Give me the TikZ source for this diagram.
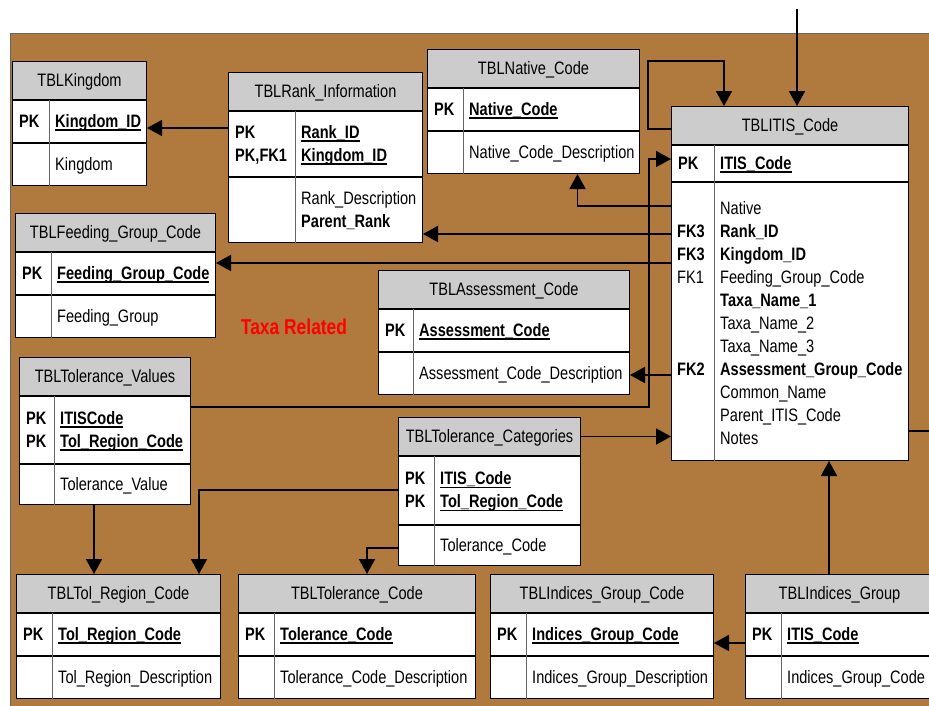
\documentclass[tikz,border=0pt]{standalone}
\usepackage{fontspec}
\setmainfont[FakeStretch=0.81]{Liberation Sans}
\usetikzlibrary{arrows.meta,calc}

\definecolor{bgbrown}{RGB}{176,121,61}
\definecolor{hdrgray}{RGB}{204,204,204}

\newcommand{\cellstrut}{\rule[-6pt]{0pt}{23pt}}
\newcommand{\pk}[1]{{\setbox0=\hbox{\bfseries #1}\rlap{\vrule width\wd0 height -2.2pt depth 3.6pt}\box0}}

% table: name, top left, width/key column/row 1/row 2, title, keys 1, fields 1, keys 2, fields 2
\newcommand{\ertable}[8]{%
  \begin{scope}[shift={(#2)}]
    \foreach \w/\kw/\ha/\hb in {#3}
    {%
      \node[tblhead, minimum width=\w pt] (#1-h) at (0,0) {\cellstrut #4};
      \node[tblrow, minimum width=\w pt, minimum height=\ha pt] (#1-a) at (#1-h.south west) {};
      \node[tblrow, minimum width=\w pt, minimum height=\hb pt] (#1-b) at (#1-a.south west) {};
      \draw[colsep] ($(#1-a.north west)+(\kw,0)$) -- ($(#1-b.south west)+(\kw,0)$);
      \node[celltxt] at ($(#1-a.west)+(7,0)$) {\cellstrut #5\cellstrut};
      \node[celltxt] at ($(#1-a.west)+(\kw+6,0)$) {\cellstrut #6\cellstrut};
      \node[celltxt] at ($(#1-b.west)+(7,0)$) {\cellstrut #7\cellstrut};
      \node[celltxt] at ($(#1-b.west)+(\kw+6,0)$) {\cellstrut #8\cellstrut};
    }%
  \end{scope}%
}

\begin{document}
\begin{tikzpicture}[x=1pt, y=-1pt, font=\fontsize{18}{23}\selectfont,
    tblhead/.style={draw, line width=1pt, fill=hdrgray, minimum height=38pt, inner sep=0pt,
      anchor=north west},
    tblrow/.style={draw, line width=1pt, fill=white, inner sep=0pt, anchor=north west},
    colsep/.style={line width=0.8pt, black!60},
    celltxt/.style={inner sep=0pt, anchor=west, align=left},
    fk/.style={line width=1.8pt, -{Triangle[length=15pt,width=16pt]}},
    link/.style={line width=1.8pt}]
  \useasboundingbox (0,0) rectangle (929,705);
  \fill[bgbrown, draw=black!60, line width=1pt] (10,33) rectangle (945,720);

  \ertable{king}{12,61}{134/37/42/42}{TBLKingdom}{\textbf{PK}}{\pk{Kingdom\_ID}}{}{Kingdom}
  \ertable{rank}{228,72}{194/67/65/65}{TBLRank\_Information}%
    {\textbf{PK}\\\textbf{PK,FK1}}{\pk{Rank\_ID}\\\pk{Kingdom\_ID}}%
    {}{Rank\_Description\\\textbf{Parent\_Rank}}
  \ertable{native}{427,49}{212/36/42/42}{TBLNative\_Code}{\textbf{PK}}{\pk{Native\_Code}}{}{Native\_Code\_Description}
  \ertable{itis}{671,106}{237/43/36/278}{TBLITIS\_Code}{\textbf{PK}}{\pk{ITIS\_Code}}{}{}
  \ertable{feed}{15,213}{200/36/42/42}{TBLFeeding\_Group\_Code}{\textbf{PK}}{\pk{Feeding\_Group\_Code}}{}{Feeding\_Group}
  \ertable{assess}{378,270}{251/35/42/42}{TBLAssessment\_Code}{\textbf{PK}}{\pk{Assessment\_Code}}{}{Assessment\_Code\_Description}
  \ertable{tolval}{19,357}{171/35/67/40}{TBLTolerance\_Values}%
    {\textbf{PK}\\\textbf{PK}}{\pk{ITISCode}\\\pk{Tol\_Region\_Code}}{}{Tolerance\_Value}
  \ertable{tolcat}{398,417}{182/36/68/40}{TBLTolerance\_Categories}%
    {\textbf{PK}\\\textbf{PK}}{\pk{ITIS\_Code}\\\pk{Tol\_Region\_Code}}{}{Tolerance\_Code}
  \ertable{tolreg}{16,574}{204/36/42/42}{TBLTol\_Region\_Code}{\textbf{PK}}{\pk{Tol\_Region\_Code}}{}{Tol\_Region\_Description}
  \ertable{tolcode}{238,574}{237/36/42/42}{TBLTolerance\_Code}{\textbf{PK}}{\pk{Tolerance\_Code}}{}{Tolerance\_Code\_Description}
  \ertable{indcode}{490,574}{223/36/42/42}{TBLIndices\_Group\_Code}{\textbf{PK}}{\pk{Indices\_Group\_Code}}{}{Indices\_Group\_Description}
  \ertable{indgrp}{745,574}{188/36/42/42}{TBLIndices\_Group}{\textbf{PK}}{\pk{ITIS\_Code}}{}{Indices\_Group\_Code}

  % ITIS field list
  \node[celltxt, anchor=north west] (itis-keys) at ($(itis-b.north west)+(6,15.5)$)
    {\cellstrut\mbox{}\\\textbf{FK3}\\\textbf{FK3}\\FK1\\\mbox{}\\\mbox{}\\\mbox{}\\\textbf{FK2}};
  \node[celltxt, anchor=north west] (itis-fields) at ($(itis-b.north west)+(49,15.5)$)
    {\cellstrut Native\\\textbf{Rank\_ID}\\\textbf{Kingdom\_ID}\\Feeding\_Group\_Code\\\textbf{Taxa\_Name\_1}\\
     Taxa\_Name\_2\\Taxa\_Name\_3\\\textbf{Assessment\_Group\_Code}\\Common\_Name\\Parent\_ITIS\_Code\\Notes};

  \node[text=red, font=\fontsize{21.5}{26}\selectfont\bfseries] (taxa) at (294,327) {Taxa Related};

  % links
  \draw[fk] ($(rank-a.north west)+(0,17)$) coordinate (p) -- (king-a.east |- p);
  \draw[fk] ($(itis-b.north west)+(0,52)$) coordinate (p) -- (rank-b.east |- p);
  \draw[fk] ($(itis-b.north west)+(0,81)$) coordinate (p) -- (feed-a.east |- p);
  \draw[fk] ($(itis-b.north west)+(0,24)$) -| ($(native-b.south)+(44,0)$);
  \draw[fk] ($(itis-b.north west)+(0,193)$) coordinate (p) -- (assess-b.east |- p);
  \draw[fk] ($(itis-h.north west)+(0,23)$) -- ++(-23,0) |- ($(itis-h.north west)+(53,-45)$)
    -- ($(itis-h.north west)+(53,0)$);
  \coordinate (itis-in) at ($(itis-h.north west)+(126,-97)$);
  \draw[fk] (itis-in) -- (itis-in |- itis-h.north);
  \draw[fk] ($(tolval-a.north east)+(0,11)$) -| ($(itis-a.north west)+(-22,14)$)
    -- ($(itis-a.north west)+(0,14)$);
  \draw[fk] (tolcat-h.east) -- (itis-b.west |- tolcat-h.east);
  \coordinate (itis-out) at ($(itis-b.north east)+(40,249)$);
  \draw[link] (itis-b.east |- itis-out) -- (itis-out);
  \draw[fk] ($(indgrp-h.north west)+(84,0)$) coordinate (p) -- (p |- itis-b.south);
  \draw[fk] ($(indgrp-a.north west)+(0,30)$) coordinate (p) -- (indcode-a.east |- p);
  \draw[fk] ($(tolval-b.south west)+(75,0)$) coordinate (p) -- (p |- tolreg-h.north);
  \draw[fk] ($(tolcat-a.north west)+(0,34)$) -| ($(tolreg-h.north west)+(183,0)$);
  \draw[fk] ($(tolcat-b.north west)+(0,23)$) -| ($(tolcode-h.north west)+(129,0)$);
\end{tikzpicture}
\end{document}
